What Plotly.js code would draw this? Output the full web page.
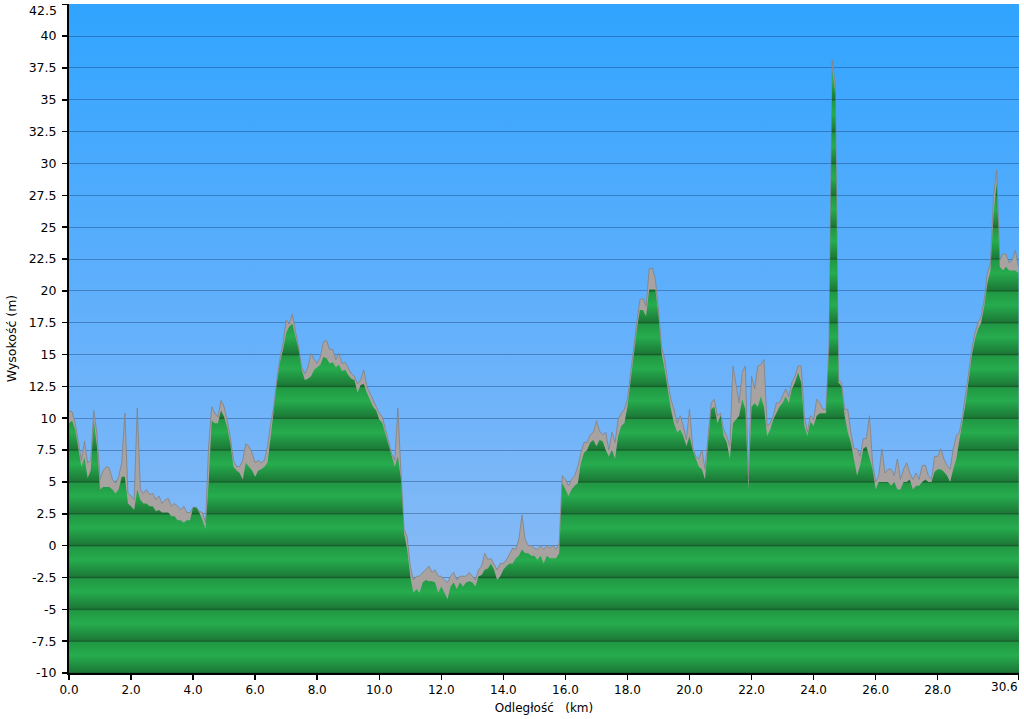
<!DOCTYPE html>
<html><head><meta charset="utf-8">
<script src="https://cdn.plot.ly/plotly-3.0.1.min.js"></script>
<style>html,body{margin:0;padding:0;background:#fff}#chart{width:1024px;height:719px}</style>
</head><body><div id="chart"></div><script>
// distance of first sample and sample spacing (km)
const startKm = 0;
const stepKm = 0.1;

// raw elevation samples (grey, noisy) every 0.1 km, m
const rawElevation = [
  10.6, 10.5, 9.6, 8.2, 6.7, 8.2, 6.5, 6.7, 10.6, 8.8,
  5.2, 5.9, 6.2, 6.1, 5.2, 4.9, 5.4, 6.5, 10.4, 4.1,
  3.9, 3.6, 10.8, 4.4, 4.1, 4.4, 4.0, 4.1, 3.6, 3.9,
  3.3, 3.6, 3.7, 3.1, 3.3, 3.1, 2.8, 3.1, 2.6, 2.6,
  3.0, 3.0, 2.7, 2.6, 1.8, 7.8, 10.9, 10.4, 10.1, 11.4,
  10.9, 9.8, 8.5, 6.7, 6.2, 6.2, 6.7, 8.0, 7.8, 7.3,
  6.5, 6.7, 6.5, 6.7, 7.8, 9.6, 10.9, 13.0, 14.7, 15.9,
  17.7, 17.4, 18.2, 16.8, 15.6, 14.0, 13.5, 14.0, 15.1, 14.6,
  14.3, 14.8, 16.0, 16.1, 15.4, 15.4, 14.6, 15.1, 14.3, 14.4,
  13.9, 13.5, 13.3, 12.7, 13.0, 13.8, 12.5, 12.0, 11.4, 10.9,
  10.4, 10.1, 9.1, 8.3, 7.2, 6.7, 10.8, 5.7, 1.3, 0.7,
  -1.6, -2.7, -2.4, -2.4, -2.1, -1.9, -1.6, -2.1, -1.9, -2.4,
  -2.4, -2.7, -2.9, -2.4, -2.1, -2.7, -2.4, -2.4, -2.4, -2.1,
  -2.4, -2.7, -1.9, -1.6, -0.6, -1.1, -1.0, -1.4, -1.9, -1.4,
  -1.4, -1.1, -0.6, -0.2, -0.3, 0.5, 2.4, 0.5, 0.0, 0.0,
  -0.2, -0.3, 0.0, -0.3, 0.0, -0.2, 0.0, -0.3, 0.2, 5.5,
  5.2, 4.7, 5.2, 5.5, 6.2, 7.3, 8.1, 8.1, 8.7, 8.9,
  9.8, 9.0, 8.7, 8.9, 7.5, 8.9, 8.1, 9.9, 10.4, 10.7,
  11.5, 13.6, 15.4, 17.5, 19.3, 19.4, 18.8, 21.7, 21.8, 20.9,
  18.5, 15.6, 14.6, 12.8, 11.5, 10.7, 9.6, 10.2, 9.4, 8.3,
  10.7, 7.8, 7.0, 6.8, 7.5, 6.0, 8.6, 11.2, 11.5, 10.2,
  10.4, 9.1, 8.6, 7.8, 14.1, 12.8, 11.2, 13.6, 14.1, 5.2,
  13.3, 12.3, 14.1, 14.2, 14.6, 9.4, 9.6, 10.2, 11.2, 11.2,
  11.7, 12.3, 11.7, 12.8, 13.3, 14.1, 14.1, 10.2, 8.9, 10.2,
  9.9, 11.5, 11.2, 10.7, 10.7, 15.9, 38.1, 36.0, 13.0, 12.8,
  10.7, 10.7, 8.9, 7.6, 7.6, 7.0, 8.4, 8.4, 10.2, 6.5,
  5.0, 5.5, 7.6, 5.7, 6.0, 6.0, 5.5, 6.8, 5.2, 6.0,
  6.5, 5.7, 5.2, 5.7, 5.2, 6.3, 6.3, 5.5, 5.2, 7.0,
  7.0, 7.6, 6.8, 6.3, 6.0, 7.6, 8.6, 8.9, 10.2, 11.8,
  13.6, 15.4, 16.7, 17.5, 18.0, 19.3, 21.4, 22.2, 27.5, 29.5,
  22.4, 22.9, 22.9, 22.2, 22.4, 23.2, 21.9
];

// smoothed elevation samples (green) every 0.1 km, m
const smoothElevation = [
  9.6, 9.8, 9.1, 7.8, 6.2, 6.9, 5.3, 5.9, 9.8, 7.8,
  4.4, 4.6, 4.6, 4.6, 4.4, 4.1, 4.4, 5.4, 5.4, 3.3,
  3.1, 2.8, 4.4, 3.6, 3.3, 3.3, 3.1, 3.1, 2.7, 2.8,
  2.6, 2.6, 2.6, 2.3, 2.3, 2.0, 2.0, 1.8, 2.0, 2.0,
  3.0, 3.0, 2.6, 2.0, 1.3, 4.9, 9.8, 9.6, 9.6, 10.6,
  10.1, 9.3, 8.0, 6.2, 5.9, 5.7, 5.2, 6.5, 6.2, 5.9,
  5.4, 5.9, 6.0, 6.2, 6.5, 8.8, 10.6, 12.7, 14.4, 15.4,
  16.7, 17.2, 17.4, 16.4, 15.4, 13.8, 13.0, 13.1, 13.3, 13.8,
  14.0, 14.2, 14.8, 14.7, 14.3, 14.4, 14.0, 14.2, 13.7, 13.8,
  13.4, 13.1, 13.0, 12.0, 12.6, 12.7, 12.0, 11.4, 10.9, 10.6,
  9.9, 9.6, 8.8, 7.8, 7.0, 6.2, 7.0, 5.2, 1.0, -0.3,
  -2.4, -3.7, -3.4, -3.7, -2.9, -2.7, -2.8, -2.8, -2.9, -3.7,
  -3.2, -3.7, -4.2, -3.2, -2.9, -3.4, -2.9, -3.2, -2.9, -2.8,
  -2.9, -3.2, -2.4, -2.3, -1.9, -1.8, -1.4, -1.9, -2.7, -2.4,
  -1.9, -1.6, -1.4, -1.4, -1.0, -0.8, -0.3, -0.6, -0.6, -0.8,
  -0.8, -1.1, -0.8, -1.4, -0.8, -1.0, -1.0, -1.0, -0.6, 4.9,
  4.4, 3.9, 4.4, 4.7, 4.9, 6.5, 7.3, 7.5, 8.1, 8.3,
  7.8, 8.3, 8.2, 7.5, 7.0, 7.5, 6.8, 8.6, 9.4, 9.6,
  10.9, 13.0, 15.1, 16.9, 18.5, 18.5, 18.0, 20.1, 20.1, 20.1,
  18.0, 15.1, 13.8, 12.2, 10.7, 9.6, 8.9, 9.1, 8.6, 7.8,
  8.6, 7.5, 6.8, 6.2, 6.0, 5.2, 8.1, 10.7, 10.9, 9.6,
  10.2, 8.6, 8.1, 6.8, 9.6, 9.9, 10.2, 11.5, 10.7, 4.4,
  10.9, 11.2, 10.9, 11.7, 10.9, 8.6, 9.1, 9.9, 10.4, 10.9,
  11.2, 11.7, 11.2, 12.3, 12.8, 13.6, 12.8, 9.4, 8.6, 9.7,
  9.4, 10.2, 10.4, 10.4, 10.4, 15.4, 37.3, 35.5, 12.8, 12.5,
  10.2, 8.9, 8.1, 6.8, 5.5, 6.3, 7.6, 7.8, 6.8, 6.0,
  4.4, 5.0, 5.0, 5.0, 5.0, 4.7, 5.0, 4.4, 4.4, 5.0,
  5.0, 5.2, 4.4, 4.7, 4.7, 5.0, 5.2, 5.0, 5.0, 5.8,
  6.0, 6.0, 5.8, 5.5, 5.0, 6.0, 6.8, 8.3, 9.7, 11.2,
  13.0, 14.9, 16.2, 17.0, 17.5, 18.8, 20.6, 21.6, 26.0, 28.5,
  21.9, 21.6, 21.9, 21.6, 21.6, 21.6, 21.4
];

const xRange = [0, 30.62];
const yRange = [-10, 42.52];
const xTickVals = [0, 2, 4, 6, 8, 10, 12, 14, 16, 18, 20, 22, 24, 26, 28, 30.6];
const xTickText = ["0.0","2.0","4.0","6.0","8.0","10.0","12.0","14.0","16.0","18.0","20.0","22.0","24.0","26.0","28.0","30.6"];
const yTickVals = [-10,-7.5,-5,-2.5,0,2.5,5,7.5,10,12.5,15,17.5,20,22.5,25,27.5,30,32.5,35,37.5,40,42.5];
const yTickText = ["-10","-7.5","-5","-2.5","0","2.5","5","7.5","10","12.5","15","17.5","20","22.5","25","27.5","30","32.5","35","37.5","40","42.5"];

// banded green colourscale: dark at each grid line, light in the band
const gMin = yTickVals[0], gMax = yTickVals[yTickVals.length - 1];
const nBands = yTickVals.length - 1;
const lineCol = 'rgb(22,92,42)', darkCol = 'rgb(28,122,55)', lightCol = 'rgb(38,172,78)', midCol = 'rgb(33,152,68)';
const greenScale = [];
for (let i = 0; i < nBands; i++) {
  const b0 = i / nBands, b1 = (i + 1) / nBands;
  greenScale.push([b0, lineCol]);
  greenScale.push([b0 + 0.002, darkCol]);
  greenScale.push([b0 + 0.55 * (b1 - b0), lightCol]);
  greenScale.push([b1 - 0.002, midCol]);
}
greenScale.push([1, lineCol]);

const bgSvg = "<svg xmlns='http://www.w3.org/2000/svg' width='10' height='100' preserveAspectRatio='none'>" +
  "<defs><linearGradient id='g' x1='0' y1='0' x2='0' y2='1'>" +
  "<stop offset='0' stop-color='#30a4ff'/><stop offset='0.5' stop-color='#66b1fb'/><stop offset='1' stop-color='#94bef3'/>" +
  "</linearGradient></defs><rect width='10' height='100' fill='url(#g)'/></svg>";

const baseLine = {x: xRange, y: [yRange[0], yRange[0]], mode: 'lines', line: {width: 0, color: 'rgba(0,0,0,0)'}, hoverinfo: 'skip', showlegend: false};

const traces = [
  baseLine,
  {x0: startKm, dx: stepKm, y: rawElevation, mode: 'lines', fill: 'tonexty',
   fillcolor: '#a8a3a1', line: {color: '#858080', width: 0.8}, showlegend: false},
  Object.assign({}, baseLine),
  {x0: startKm, dx: stepKm, y: smoothElevation, mode: 'lines', fill: 'tonexty',
   fillgradient: {type: 'vertical', start: gMin, stop: gMax, colorscale: greenScale},
   line: {width: 0, color: 'rgba(0,0,0,0)'}, showlegend: false}
];

// edge labels are drawn as annotations so they stay inside the page
const yLast = yTickVals.length - 1, xLast = xTickVals.length - 1;
const yTickTextShown = yTickText.map((t, i) => i === yLast ? '' : t);
const xTickTextShown = xTickText.map((t, i) => i === xLast ? '' : t);

const layout = {
  width: 1024, height: 719,
  margin: {l: 69, r: 5, t: 4, b: 46},
  paper_bgcolor: '#ffffff',
  plot_bgcolor: 'rgba(0,0,0,0)',
  font: {family: 'DejaVu Sans, Verdana, sans-serif', size: 12, color: '#000'},
  showlegend: false,
  images: [{
    source: 'data:image/svg+xml;charset=utf-8,' + encodeURIComponent(bgSvg),
    xref: 'paper', yref: 'paper', x: 0, y: 1, sizex: 1, sizey: 1,
    sizing: 'stretch', xanchor: 'left', yanchor: 'top', layer: 'below'
  }],
  annotations: [
    {text: yTickText[yLast], xref: 'paper', x: 0, xanchor: 'right', xshift: -10,
     yref: 'y', y: yTickVals[yLast], yanchor: 'top', yshift: 3, showarrow: false,
     font: {size: 12.5}},
    {text: xTickText[xLast], xref: 'x', x: xTickVals[xLast], xanchor: 'right', xshift: 2,
     yref: 'paper', y: 0, yanchor: 'top', yshift: -5, showarrow: false,
     font: {size: 12}}
  ],
  xaxis: {
    range: xRange, tickmode: 'array', tickvals: xTickVals, ticktext: xTickTextShown,
    ticks: 'outside', ticklen: 5, tickwidth: 1.5, tickcolor: '#000',
    showline: true, linecolor: '#000', linewidth: 2, showgrid: false, zeroline: false,
    tickfont: {size: 12},
    title: {text: 'Odległość\u00a0\u00a0 (km)', font: {size: 12}, standoff: 7}
  },
  yaxis: {
    range: yRange, tickmode: 'array', tickvals: yTickVals, ticktext: yTickTextShown,
    ticks: 'outside', ticklen: 5, tickwidth: 1.5, tickcolor: '#000',
    showline: true, linecolor: '#000', linewidth: 2, ticklabelstandoff: 3,
    showgrid: true, gridcolor: 'rgba(10,40,90,0.35)', gridwidth: 1, zeroline: false,
    tickfont: {size: 12.5},
    title: {text: 'Wysokość (m)', font: {size: 12.5}, standoff: 9}
  }
};

Plotly.newPlot('chart', traces, layout, {displayModeBar: false, staticPlot: true});
</script></body></html>
